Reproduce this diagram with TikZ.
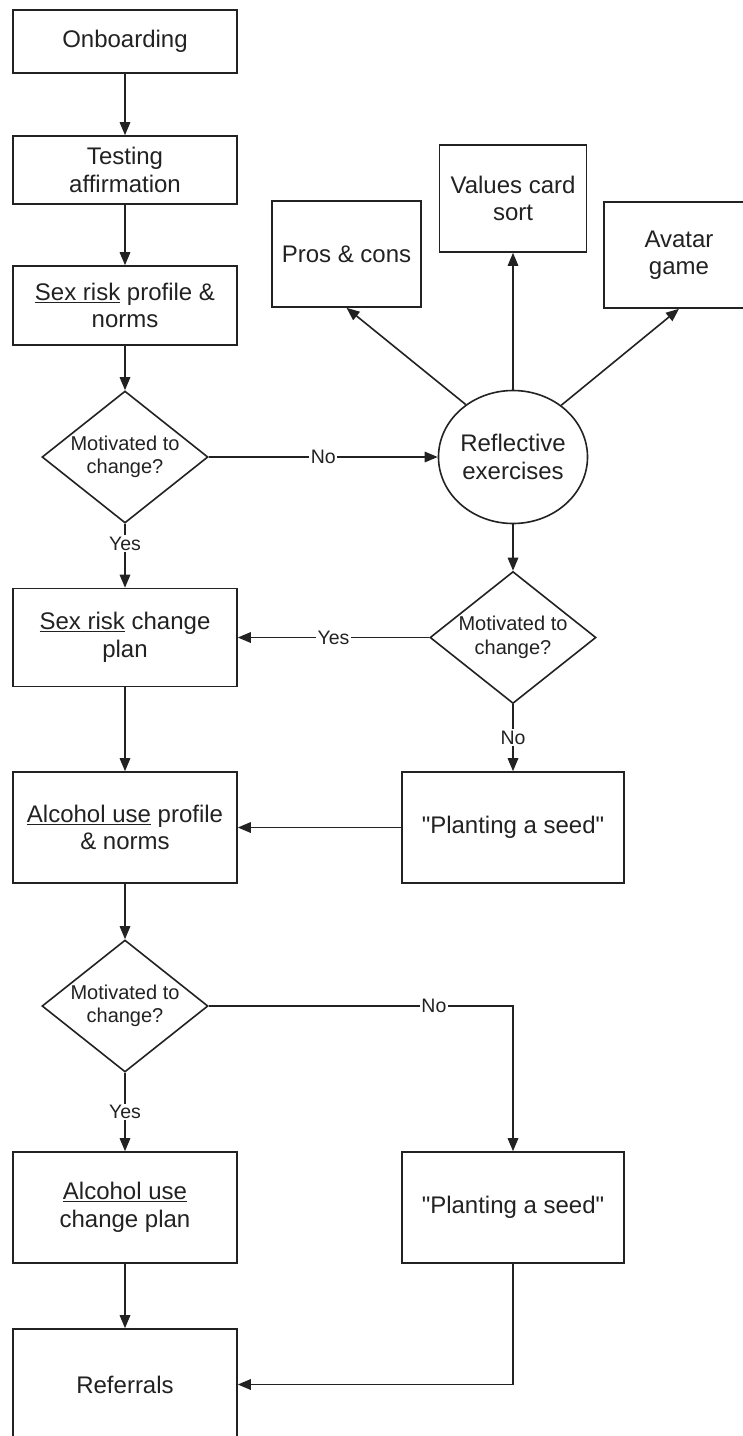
\documentclass[tikz,border=0pt]{standalone}
\usepackage{fontspec}
\setmainfont{Liberation Sans}
\usetikzlibrary{arrows.meta,shapes.geometric}
\definecolor{ink}{HTML}{222222}
\newcommand{\bigtxt}{\fontsize{24}{27.5}\selectfont}
\newcommand{\asktxt}{\fontsize{20}{23.5}\selectfont}
\newcommand{\tagtxt}{\fontsize{19.5}{22}\selectfont}
\newcommand{\seedtxt}{\textquotedbl Planting a seed\textquotedbl}
\tikzset{
  stagebox/.style={draw=ink, rectangle, inner sep=0pt, align=center, font=\bigtxt, minimum width=224pt},
  askdiam/.style={draw=ink, diamond, inner sep=0pt, shape aspect=1.26, align=center, font=\asktxt, minimum width=166pt, minimum height=132pt},
  reflell/.style={draw=ink, ellipse, inner sep=0pt, align=center, font=\bigtxt, minimum width=148pt, minimum height=133pt},
  tag/.style={fill=white, inner sep=1.5pt, font=\tagtxt, text=ink}
}
\begin{document}
\begin{tikzpicture}[x=1pt, y=-1pt, line width=1.6pt, color=ink, >={Triangle[length=13pt,width=10.5pt]}]
\useasboundingbox (0,0) rectangle (743,1436);
\clip (0,0) rectangle (743,1436);
\fill[white] (0,0) rectangle (743,1436);
% main column
\node[stagebox, minimum height=63pt] (onb) at (125,41.5) {Onboarding};
\node[stagebox, minimum height=68pt] (test) at (125,170) {Testing\\affirmation};
\node[stagebox, minimum height=79pt] (sxprof) at (125,305.5) {\underline{Sex risk} profile \&\\norms};
\node[askdiam] (mot1) at (125,457) {Motivated to\\change?};
\node[stagebox, minimum height=98pt] (sxplan) at (125,637.5) {\underline{Sex risk} change\\plan};
\node[stagebox, minimum height=111pt] (alcprof) at (125,827.5) {\underline{Alcohol use} profile\\\& norms};
\node[askdiam] (mot3) at (125,1006) {Motivated to\\change?};
\node[stagebox, minimum height=111pt] (alcplan) at (125,1207.5) {\underline{Alcohol use}\\change plan};
\node[stagebox, minimum height=111pt] (refs) at (125,1384.5) {Referrals};
% side branch
\node[reflell] (refl) at (513,457) {Reflective\\exercises};
\node[stagebox, minimum width=149pt, minimum height=106pt] (pros) at (346.5,254) {Pros \& cons};
\node[stagebox, minimum width=147pt, minimum height=107pt] (vals) at (513,198.5) {Values card\\sort};
\node[stagebox, minimum width=150pt, minimum height=106pt] (avat) at (679,255) {Avatar\\game};
\node[askdiam] (mot2) at (513,637.5) {Motivated to\\change?};
\node[stagebox, minimum width=222pt, minimum height=111pt] (seed1) at (513,827.5) {\seedtxt};
\node[stagebox, minimum width=222pt, minimum height=111pt] (seed2) at (513,1207.5) {\seedtxt};
% connectors
\draw[->] (onb) -- (test);
\draw[->] (test) -- (sxprof);
\draw[->] (sxprof) -- (mot1);
\draw[->] (mot1) -- node[tag, pos=0.31] {Yes} (sxplan);
\draw[->] (mot1) -- node[tag] {No} (refl);
\draw[->] (refl.132) -- (pros.south);
\draw[->] (refl) -- (vals);
\draw[->] (refl.47) -- (avat.south);
\draw[->] (refl) -- (mot2);
\draw[->] (mot2) -- node[tag] {Yes} (sxplan);
\draw[->] (mot2) -- node[tag] {No} (seed1);
\draw[->] (seed1) -- (alcprof);
\draw[->] (sxplan) -- (alcprof);
\draw[->] (alcprof) -- (mot3);
\draw[->] (mot3) -- node[tag] {Yes} (alcplan);
\draw[->] (mot3) -| node[tag, pos=0.37] {No} (seed2);
\draw[->] (alcplan) -- (refs);
\draw[->] (seed2) |- (refs);
\end{tikzpicture}
\end{document}
